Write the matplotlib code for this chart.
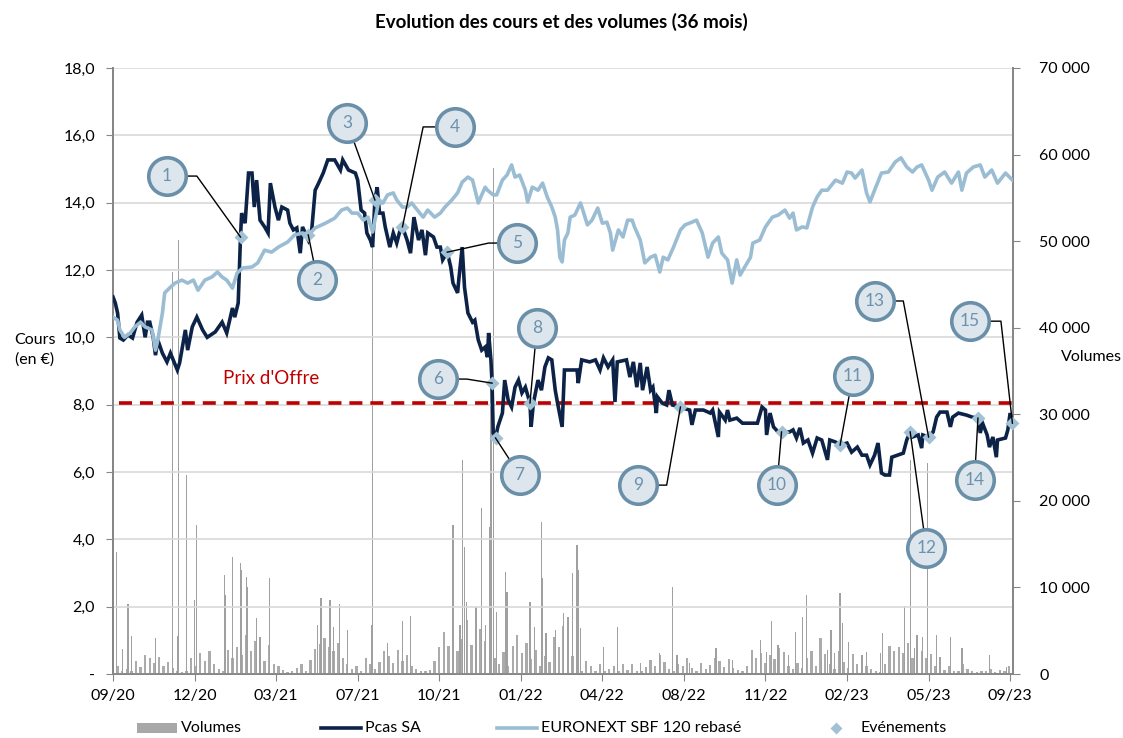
import matplotlib.pyplot as plt
from matplotlib.lines import Line2D
from matplotlib.patches import Rectangle
from matplotlib.ticker import FuncFormatter

plt.rcParams['font.family'] = ['Lato', 'DejaVu Sans']

# x = trading session index since 09/20 (0 .. 783)
tick_pos = [0, 71, 142, 213, 284, 355, 426, 497, 568, 639, 710, 781]
tick_labels = ["09/20", "12/20", "03/21", "07/21", "10/21", "01/22",
               "04/22", "08/22", "11/22", "02/23", "05/23", "09/23"]

# Pcas SA share price (EUR)
pcas_t = [0, 2, 4, 6, 9, 13, 17, 21, 25, 28,
          30, 32, 35, 37, 39, 43, 47, 50, 56, 58,
          63, 65, 69, 73, 78, 82, 89, 95, 99, 104,
          106, 109, 111, 112, 115, 118, 121, 123, 125, 128,
          132, 135, 137, 141, 144, 147, 152, 154, 157, 160,
          163, 165, 170, 173, 176, 179, 183, 187, 193, 198,
          200, 205, 211, 213, 216, 219, 221, 224, 226, 228,
          230, 232, 235, 237, 241, 244, 247, 250, 252, 256,
          259, 262, 266, 269, 272, 274, 279, 282, 285, 287,
          291, 294, 296, 300, 301, 304, 306, 309, 313, 315,
          318, 321, 324, 326, 327, 329, 330, 331, 333, 335,
          339, 341, 344, 347, 350, 353, 356, 359, 363, 364,
          366, 370, 373, 376, 379, 382, 385, 387, 391, 393,
          395, 404, 405, 408, 415, 420, 424, 427, 431, 435,
          437, 439, 447, 450, 453, 456, 459, 461, 465, 468,
          470, 473, 474, 478, 482, 484, 487, 494, 496, 502,
          504, 507, 514, 520, 522, 527, 528, 533, 535, 537,
          543, 548, 561, 565, 568, 569, 572, 575, 579, 582,
          589, 592, 595, 598, 601, 605, 609, 613, 617, 622,
          624, 629, 633, 639, 643, 648, 652, 656, 659, 663,
          666, 669, 672, 676, 678, 683, 688, 691, 694, 696,
          701, 704, 705, 710, 714, 717, 720, 726, 729, 731,
          736, 743, 748, 753, 755, 757, 761, 763, 766, 769,
          770, 777, 779, 781, 783]
pcas_v = [11.20, 11.02, 10.72, 9.98, 9.92, 10.07, 9.98, 10.45, 10.66, 10.00,
          10.45, 10.45, 10.00, 9.47, 9.92, 9.53, 9.27, 9.53, 9.03, 9.24,
          10.22, 9.62, 10.31, 10.60, 10.22, 10.00, 10.16, 10.45, 10.13, 10.87,
          10.60, 11.02, 12.98, 13.69, 13.39, 14.88, 14.88, 13.87, 14.67, 13.48,
          13.28, 13.10, 14.58, 13.87, 13.48, 13.87, 13.78, 13.39, 13.19, 13.25,
          12.50, 13.28, 12.89, 13.19, 14.37, 14.58, 14.88, 15.27, 15.27, 14.97,
          15.27, 14.97, 14.88, 14.67, 13.78, 13.69, 13.10, 12.89, 12.68, 14.08,
          14.46, 13.69, 13.69, 13.28, 12.68, 13.10, 12.80, 13.19, 13.28, 12.89,
          12.50, 13.57, 12.89, 13.19, 12.44, 13.10, 12.98, 12.68, 12.68, 12.30,
          12.53, 12.09, 11.61, 11.32, 11.70, 12.68, 11.49, 10.72, 10.45, 10.51,
          9.92, 9.62, 9.71, 9.41, 10.13, 9.33, 8.64, 7.16, 7.01, 7.34,
          7.75, 8.73, 8.14, 7.93, 8.52, 8.73, 8.35, 8.52, 8.05, 7.34,
          8.05, 8.73, 8.43, 9.12, 9.39, 9.33, 8.43, 8.05, 7.34, 9.03,
          9.03, 9.03, 8.64, 9.33, 9.27, 9.33, 9.03, 9.39, 9.12, 9.33,
          8.08, 9.27, 9.33, 8.82, 9.27, 8.52, 9.24, 8.43, 9.12, 8.43,
          8.52, 7.75, 8.23, 8.05, 7.99, 8.43, 7.99, 7.93, 7.90, 7.84,
          7.40, 7.84, 7.84, 7.75, 7.84, 7.04, 7.78, 7.54, 7.84, 7.54,
          7.60, 7.45, 7.45, 7.93, 7.84, 7.10, 7.75, 7.34, 7.19, 7.19,
          7.19, 7.25, 7.01, 7.31, 6.86, 6.95, 6.56, 7.01, 6.95, 6.36,
          6.95, 6.89, 6.80, 6.86, 6.59, 6.74, 6.50, 6.50, 6.21, 6.50,
          6.86, 5.97, 5.91, 5.91, 6.44, 6.50, 6.56, 6.95, 7.19, 7.04,
          7.10, 6.71, 7.10, 7.04, 7.19, 7.63, 7.78, 7.78, 7.34, 7.63,
          7.75, 7.69, 7.63, 7.60, 7.16, 7.45, 7.10, 6.74, 7.04, 6.44,
          6.95, 7.01, 7.25, 7.75, 7.45]

# EURONEXT SBF 120, rebased on Pcas price
sbf_t = [0, 4, 6, 10, 15, 19, 24, 28, 34, 37,
         39, 43, 45, 50, 54, 60, 65, 70, 74, 80,
         86, 91, 95, 99, 104, 108, 113, 121, 126, 132,
         138, 144, 152, 158, 165, 170, 176, 185, 193, 199,
         204, 208, 213, 218, 222, 226, 231, 235, 239, 244,
         247, 252, 256, 260, 265, 270, 274, 280, 285, 289,
         295, 300, 304, 309, 313, 318, 321, 324, 326, 331,
         334, 339, 343, 347, 350, 354, 359, 361, 365, 370,
         374, 378, 382, 385, 387, 389, 391, 393, 396, 398,
         402, 407, 409, 413, 417, 422, 426, 430, 433, 435,
         440, 444, 448, 452, 454, 459, 463, 468, 472, 476,
         479, 483, 488, 494, 498, 504, 508, 513, 518, 522,
         527, 530, 535, 539, 543, 546, 550, 555, 557, 563,
         568, 574, 579, 585, 589, 592, 595, 600, 604, 609,
         613, 617, 622, 629, 635, 639, 643, 646, 652, 656,
         659, 663, 669, 675, 681, 686, 691, 696, 700, 704,
         710, 713, 718, 724, 730, 736, 739, 743, 749, 755,
         759, 765, 770, 777, 783]
sbf_v = [10.60, 10.51, 10.22, 10.00, 10.13, 10.31, 10.45, 10.31, 10.22, 9.62,
         9.92, 10.72, 11.32, 11.49, 11.61, 11.70, 11.61, 11.70, 11.40, 11.70,
         11.79, 11.94, 11.79, 11.70, 11.46, 11.91, 12.06, 12.09, 12.21, 12.59,
         12.53, 12.68, 12.83, 13.04, 13.10, 13.04, 13.25, 13.39, 13.54, 13.78,
         13.84, 13.69, 13.69, 13.48, 13.57, 13.13, 13.99, 13.99, 14.23, 14.29,
         14.08, 13.87, 13.87, 13.99, 13.78, 13.57, 13.78, 13.57, 13.69, 13.87,
         14.08, 14.29, 14.61, 14.76, 14.67, 13.99, 14.23, 14.46, 14.37, 14.23,
         14.23, 14.67, 14.82, 15.12, 14.76, 14.82, 14.37, 14.02, 14.46, 14.37,
         14.58, 14.17, 13.87, 13.57, 13.19, 12.38, 12.24, 12.89, 13.10, 13.57,
         13.63, 13.99, 13.78, 13.34, 13.48, 13.84, 13.39, 13.42, 13.10, 12.59,
         13.19, 12.98, 13.48, 13.48, 13.28, 12.89, 12.21, 12.38, 12.44, 11.94,
         12.38, 12.30, 12.68, 13.19, 13.34, 13.42, 13.48, 13.10, 12.38, 12.80,
         12.98, 12.50, 12.30, 11.61, 12.30, 11.85, 12.09, 12.38, 12.80, 12.89,
         13.28, 13.57, 13.63, 13.78, 13.54, 13.69, 13.19, 13.28, 13.25, 13.87,
         14.17, 14.37, 14.37, 14.67, 14.58, 14.91, 14.88, 14.73, 14.97, 14.29,
         14.02, 14.37, 14.88, 14.91, 15.21, 15.33, 15.06, 14.91, 15.06, 15.12,
         14.67, 14.37, 14.76, 14.91, 14.58, 14.91, 14.37, 14.88, 15.06, 15.12,
         14.76, 14.97, 14.58, 14.88, 14.67]

# daily volumes: background level (every 4 sessions) and peaks
vol_base = [1200, 900, 400, 600, 300, 1500, 800, 2200, 1800, 1300, 2000, 900, 1400, 700, 300, 200,
            400, 1800, 900, 2400, 1500, 2600, 1200, 600, 300, 2800, 1900, 3100, 2200, 4500, 2600, 3800,
            2500, 1500, 3300, 1200, 900, 500, 200, 300, 700, 1100, 400, 1600, 2900, 3500, 4200, 3100,
            2600, 3600, 1800, 1200, 600, 900, 400, 1800, 1200, 600, 1400, 2600, 2100, 1300, 2800, 1500,
            2200, 900, 600, 300, 400, 500, 1500, 3100, 4800, 3200, 5100, 2600, 4100, 6200, 3300, 4600,
            5200, 3800, 2900, 1800, 1200, 2500, 900, 3200, 4500, 2400, 3600, 1700, 2800, 900, 2100, 1400,
            4300, 3100, 5500, 4200, 2100, 800, 300, 1500, 900, 400, 1200, 300, 600, 900, 300, 1100,
            500, 1200, 400, 300, 800, 1600, 900, 2200, 1400, 600, 400, 1200, 900, 1800, 700, 400,
            1300, 600, 1000, 1900, 1500, 800, 1700, 700, 500, 300, 900, 2800, 1800, 2400, 1300, 2200,
            1700, 3000, 2500, 900, 600, 1300, 700, 1800, 2600, 900, 4200, 2300, 1200, 600, 2600, 1400,
            700, 2300, 1100, 300, 900, 600, 300, 200, 1100, 3200, 2600, 3100, 2400, 3600, 1900, 3400,
            2700, 1900, 2300, 900, 1600, 500, 900, 400, 300, 1100, 600, 300, 200, 400, 300, 600,
            200, 500, 300, 900]
vol_base_t = [4 * i for i in range(len(vol_base))]
spike_t = [3, 8, 13, 16, 37, 52, 56, 57, 64, 71,
           73, 97, 98, 104, 111, 112, 116, 117, 125, 128,
           136, 178, 181, 189, 192, 197, 204, 225, 226, 239,
           252, 259, 296, 302, 304, 306, 308, 316, 321, 324,
           328, 329, 331, 334, 342, 343, 363, 367, 373, 374,
           377, 385, 392, 396, 400, 404, 405, 407, 427, 439,
           459, 476, 487, 491, 502, 525, 539, 564, 569, 573,
           579, 588, 594, 600, 604, 617, 622, 625, 628, 633,
           635, 640, 652, 656, 668, 670, 689, 694, 698, 700,
           705, 709, 717, 720, 729, 739, 763, 778]
spike_v = [14100, 2900, 8100, 4400, 4200, 46400, 4400, 50100, 23000, 8500,
           17200, 11400, 9100, 13500, 12800, 12000, 11200, 10000, 6500, 4300,
           11100, 5700, 8800, 8500, 5400, 8100, 5100, 5700, 49300, 3600,
           6100, 6700, 17200, 5700, 24700, 14700, 8300, 7700, 19200, 5700,
           17000, 36600, 58400, 7200, 11800, 9500, 8300, 5400, 17600, 11100,
           4700, 5100, 7000, 6600, 11700, 14900, 12000, 5300, 3100, 5400,
           1300, 2400, 10000, 2200, 1300, 3000, 1600, 3900, 2500, 6100,
           3400, 2200, 4900, 6600, 9100, 1600, 2800, 5100, 2400, 9400,
           5900, 3700, 2200, 2500, 2400, 4700, 7900, 24700, 3000, 4500,
           4300, 24400, 4500, 2000, 4300, 3000, 2200, 800]

offer_price = 8.05

# events (numbered callouts)
event_num = list(range(1, 16))
event_t = [111, 170, 228, 252, 291, 330, 333, 363, 494, 582, 633, 694, 710, 753, 783]
event_v = [12.98, 13.04, 14.08, 13.28, 12.53, 8.64, 7.01, 8.05, 7.93, 7.19, 6.80, 7.19, 7.04, 7.60, 7.45]
label_t = [47, 178, 204, 298, 352, 283, 354, 369, 457, 578, 644, 708, 663, 750, 746]
label_v = [14.79, 11.70, 16.36, 16.25, 12.80, 8.76, 5.91, 10.28, 5.61, 5.61, 8.85, 3.74, 11.08, 5.76, 10.48]
elbow_t = [73, None, None, 270, 327, 308, None, None, 482, None, None, None, 688, None, 773]

navy = '#0c2347'
light = '#9bbdd3'
grey_axis = '#868686'

fig = plt.figure(figsize=(11.23, 7.38), dpi=100)
ax2 = fig.add_axes([0.10062, 0.08672, 0.80142, 0.82114])
ax = ax2.twinx()
ax.yaxis.tick_left()
ax.yaxis.set_label_position('left')
ax2.yaxis.tick_right()
ax.set_zorder(ax2.get_zorder() + 1)
ax.patch.set_visible(False)

# volumes
ax2.bar(vol_base_t, vol_base, width=2.0, color='#ababab', linewidth=0)
ax2.bar(spike_t, spike_v, width=1.1, color='#a0a0a0', linewidth=0)
ax2.set_ylim(0, 70000)
ax2.set_yticks(range(0, 70001, 10000))
ax2.yaxis.set_major_formatter(FuncFormatter(lambda v, _: f"{int(v):,}".replace(",", " ")))

# prices
ax.set_ylim(0, 18)
ax.set_yticks([i * 2 for i in range(10)])
ax.yaxis.set_major_formatter(FuncFormatter(lambda v, _: "-" if v == 0 else f"{v:.1f}".replace(".", ",")))
ax.grid(axis='y', color='#d9d9d9', lw=1.2)
ax.set_axisbelow(True)

ax.plot([5, 783.5], [offer_price, offer_price], color='#c00000', lw=2.6, dashes=(3.6, 2.2), zorder=2)
ax.text(138, 8.78, "Prix d'Offre", color='#c00000', fontsize=13.5, ha='center', va='center')

ax.plot(pcas_t, pcas_v, color=navy, lw=2.6, zorder=3, solid_joinstyle='miter')
ax.plot(sbf_t, sbf_v, color=light, lw=2.6, zorder=4)
ax.plot(event_t, event_v, 'D', color='#a3c1d5', ms=7, mec='none', zorder=5, clip_on=False)

for i in range(len(event_num)):
    xs = [label_t[i]]
    ys = [label_v[i]]
    if elbow_t[i] is not None:
        xs.append(elbow_t[i])
        ys.append(label_v[i])
    xs.append(event_t[i])
    ys.append(event_v[i])
    ax.plot(xs, ys, color='black', lw=1, zorder=6, clip_on=False)
    ax.plot(label_t[i], label_v[i], 'o', ms=27, mfc='#dde6ec', mec='#6a8fa9', mew=2.6, zorder=7, clip_on=False)
    ax.text(label_t[i], label_v[i], str(event_num[i]), color='#6d92ad', fontsize=12.5,
            ha='center', va='center', zorder=8)

ax.set_xlim(0, 783.5)
ax2.set_xlim(0, 783.5)
ax2.set_xticks(tick_pos)
ax2.set_xticklabels(tick_labels)

for a in (ax, ax2):
    a.spines['top'].set_visible(False)
    for s in ('left', 'right', 'bottom'):
        a.spines[s].set_color(grey_axis)
        a.spines[s].set_linewidth(1.3)
    a.tick_params(colors='#000000', labelsize=11.5, length=5, color=grey_axis)
ax.tick_params(axis='y', pad=8)
ax2.tick_params(axis='y', pad=14)
ax2.tick_params(axis='x', pad=6)

fig.text(0.5, 1 - 22 / 738, "Evolution des cours et des volumes (36 mois)",
         ha='center', va='center', fontsize=13.5, fontweight='bold')
fig.text(35 / 1123, 1 - 350 / 738, "Cours\n(en €)", ha='center', va='center', fontsize=11.5, linespacing=1.5)
fig.text(1091 / 1123, 1 - 357 / 738, "Volumes", ha='center', va='center', fontsize=11.5)

# legend along the bottom
ly = 1 - 728 / 738
fig.add_artist(Rectangle((137 / 1123, 1 - 733 / 738), 40 / 1123, 10 / 738,
                         transform=fig.transFigure, color='#a8a8a8', lw=0))
fig.text(181 / 1123, ly, "Volumes", va='center', fontsize=11.5)
fig.add_artist(Line2D([321 / 1123, 361 / 1123], [ly, ly], transform=fig.transFigure, color=navy, lw=2.6))
fig.text(365 / 1123, ly, "Pcas SA", va='center', fontsize=11.5)
fig.add_artist(Line2D([497 / 1123, 537 / 1123], [ly, ly], transform=fig.transFigure, color=light, lw=2.6))
fig.text(541 / 1123, ly, "EURONEXT SBF 120 rebasé", va='center', fontsize=11.5)
fig.add_artist(Line2D([836 / 1123], [ly], transform=fig.transFigure, marker='D', color='#a3c1d5',
                      ms=6, mec='none', lw=0))
fig.text(860 / 1123, ly, "Evénements", va='center', fontsize=11.5)

fig.savefig("out.png", dpi=100)
